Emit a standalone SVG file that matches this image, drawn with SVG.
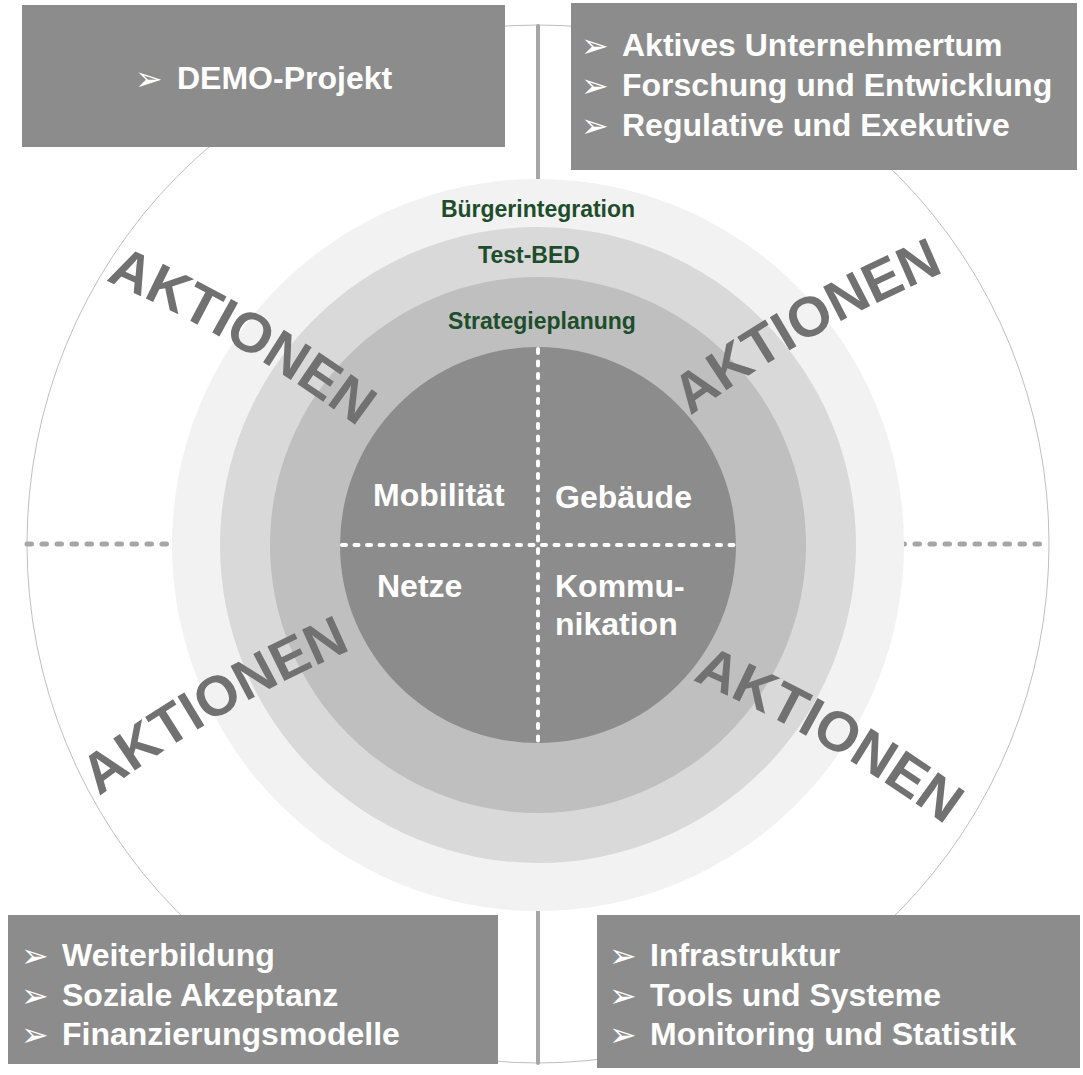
<svg xmlns="http://www.w3.org/2000/svg" width="1083" height="1075" viewBox="0 0 1083 1075">
<style>
.box{fill:#8c8c8c}
.bt{font-family:"Liberation Sans",Arial,sans-serif;font-weight:bold;font-size:32px;fill:#ffffff}
.bul{font-family:"DejaVu Sans",sans-serif;font-size:33px;fill:#ffffff}
.ring{font-family:"Liberation Sans",Arial,sans-serif;font-weight:bold;font-size:23px;fill:#1e4d2b;text-anchor:middle}
.ct{font-family:"Liberation Sans",Arial,sans-serif;font-weight:bold;font-size:32px;fill:#ffffff}
.akt{font-family:"Liberation Sans",Arial,sans-serif;font-weight:bold;font-size:56px;fill:#717171}
.solid{stroke:#a6a6a6;stroke-width:4;stroke-linecap:round;fill:none}
.odash{stroke:#a6a6a6;stroke-width:5;stroke-linecap:round;stroke-dasharray:4.5 10.5;fill:none}
.idash{stroke:#ffffff;stroke-width:4;stroke-linecap:round;stroke-dasharray:4 8.5;fill:none}
</style>
<defs>
<path id="p-tl" d="M64.4,263.4 Q243.4,333.4 392.8,454.2"/>
<path id="p-tr" d="M655,442.8 Q805.8,323.8 985.6,255.8"/>
<path id="p-bl" d="M64,823.7 Q213.6,702.9 392.7,632.9"/>
<path id="p-br" d="M650.8,663.4 Q830.3,732.3 980.6,852.2"/>
</defs>
<rect width="1083" height="1075" fill="#ffffff"/>
<g id="outer-circle"><ellipse cx="538" cy="544" rx="511" ry="519" fill="none" stroke="#bfbfbf" stroke-width="1"/></g>
<g id="connectors">
<line class="solid" x1="538" y1="26" x2="538" y2="180"/>
<line class="solid" x1="538" y1="908" x2="538" y2="1063"/>
<line class="odash" x1="27" y1="544" x2="170" y2="544"/>
<line class="odash" x1="900" y1="544" x2="1044" y2="544"/>
</g>
<g id="ring-buergerintegration"><circle cx="538" cy="545" r="366" fill="#f2f2f2"/></g>
<g id="ring-testbed"><circle cx="538" cy="545" r="318" fill="#d9d9d9"/></g>
<g id="ring-strategieplanung"><circle cx="538" cy="545" r="268" fill="#bfbfbf"/></g>
<g id="core"><circle cx="538" cy="545" r="198" fill="#8c8c8c"/>
<line class="idash" x1="538" y1="349" x2="538" y2="741"/>
<line class="idash" x1="342" y1="545" x2="736" y2="545"/>
</g>
<g id="ring-labels">
<text class="ring" x="538" y="217">Bürgerintegration</text>
<text class="ring" x="529" y="263">Test-BED</text>
<text class="ring" x="542" y="329">Strategieplanung</text>
</g>
<g id="quadrant-mobilitaet"><text class="ct" x="373" y="506">Mobilität</text></g>
<g id="quadrant-gebaeude"><text class="ct" x="555" y="508">Gebäude</text></g>
<g id="quadrant-netze"><text class="ct" x="377" y="597">Netze</text></g>
<g id="quadrant-kommunikation"><text class="ct" x="555" y="597">Kommu-</text><text class="ct" x="555" y="635">nikation</text></g>
<g id="aktionen">
<text class="akt"><textPath href="#p-tl" startOffset="50%" text-anchor="middle">AKTIONEN</textPath></text>
<text class="akt"><textPath href="#p-tr" startOffset="50%" text-anchor="middle">AKTIONEN</textPath></text>
<text class="akt"><textPath href="#p-bl" startOffset="50%" text-anchor="middle">AKTIONEN</textPath></text>
<text class="akt"><textPath href="#p-br" startOffset="50%" text-anchor="middle">AKTIONEN</textPath></text>
</g>
<g id="box-demo">
<rect class="box" x="22" y="5" width="483" height="142"/>
<text class="bul" x="135" y="90">➢</text>
<text class="bt" x="177" y="89">DEMO-Projekt</text>
</g>
<g id="box-top-right">
<rect class="box" x="571" y="3" width="506" height="167"/>
<text class="bul" x="581" y="57">➢</text><text class="bt" x="622" y="56">Aktives Unternehmertum</text>
<text class="bul" x="581" y="97">➢</text><text class="bt" x="622" y="96">Forschung und Entwicklung</text>
<text class="bul" x="581" y="137">➢</text><text class="bt" x="622" y="136">Regulative und Exekutive</text>
</g>
<g id="box-bottom-left">
<rect class="box" x="8" y="915" width="490" height="149"/>
<text class="bul" x="21" y="967">➢</text><text class="bt" x="62" y="966">Weiterbildung</text>
<text class="bul" x="21" y="1007">➢</text><text class="bt" x="62" y="1006">Soziale Akzeptanz</text>
<text class="bul" x="21" y="1046">➢</text><text class="bt" x="62" y="1045">Finanzierungsmodelle</text>
</g>
<g id="box-bottom-right">
<rect class="box" x="597" y="915" width="483" height="153"/>
<text class="bul" x="609" y="967">➢</text><text class="bt" x="650" y="966">Infrastruktur</text>
<text class="bul" x="609" y="1007">➢</text><text class="bt" x="650" y="1006">Tools und Systeme</text>
<text class="bul" x="609" y="1046">➢</text><text class="bt" x="650" y="1045">Monitoring und Statistik</text>
</g>
</svg>
